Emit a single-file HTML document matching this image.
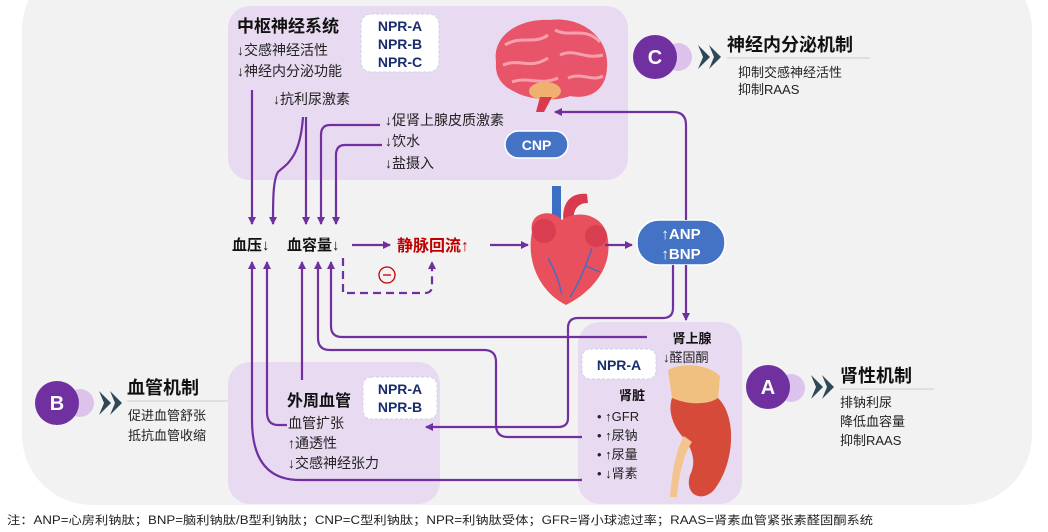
<!DOCTYPE html>
<html><head><meta charset="utf-8"><style>
html,body{margin:0;padding:0;background:#fff;}
svg{display:block;font-family:"Liberation Sans","Noto Sans CJK SC",sans-serif;}
</style></head><body>
<svg width="1048" height="532" viewBox="0 0 1048 532" xmlns="http://www.w3.org/2000/svg">
<defs>
<marker id="ar" markerWidth="8" markerHeight="8" refX="7" refY="4" orient="auto" markerUnits="userSpaceOnUse"><path d="M0,0 L8,4 L0,8 Z" fill="#7030a0"/></marker>
</defs>
<rect x="22" y="-40" width="1010" height="545" rx="70" fill="#f2f2f2"/>
<!-- boxes -->
<rect x="228" y="6" width="400" height="174" rx="22" fill="#e8daf0"/>
<rect x="228" y="362" width="212" height="142" rx="22" fill="#e8daf0"/>
<rect x="578" y="322" width="164" height="182" rx="22" fill="#e8daf0"/>

<!-- top texts -->
<text x="237" y="32" font-size="17" font-weight="bold" fill="#111">中枢神经系统</text>
<text x="237" y="55" font-size="14" fill="#222">↓交感神经活性</text>
<text x="237" y="76" font-size="14" fill="#222">↓神经内分泌功能</text>
<text x="273" y="104" font-size="14" fill="#222">↓抗利尿激素</text>
<text x="385" y="125" font-size="14" fill="#222">↓促肾上腺皮质激素</text>
<text x="385" y="146" font-size="14" fill="#222">↓饮水</text>
<text x="385" y="168" font-size="14" fill="#222">↓盐摄入</text>
<rect x="361" y="14" width="78" height="58" rx="10" fill="#fff" stroke="#c9d3ea" stroke-dasharray="3,2"/>
<g font-size="14" font-weight="bold" fill="#1a2d6e" text-anchor="middle">
<text x="400" y="31">NPR-A</text><text x="400" y="49">NPR-B</text><text x="400" y="67">NPR-C</text></g>

<!-- brain -->
<g>
<path d="M496,62 C492,35 520,18 550,20 C582,16 610,38 607,68 C606,90 590,100 570,96 C555,102 530,100 515,92 C500,85 495,75 496,62 Z" fill="#e8556a"/>
<path d="M505,45 C520,35 535,45 548,35 M503,65 C520,58 530,70 548,58 M555,30 C570,38 585,26 600,42 M560,55 C575,48 585,60 603,55 M512,82 C528,76 540,86 558,78 M568,78 C582,72 592,82 603,76" stroke="#f7a0ac" stroke-width="3" fill="none"/>
<ellipse cx="545" cy="91" rx="16" ry="9" fill="#f0b070"/>
<path d="M540,97 L536,112 L544,112 L552,97 Z" fill="#d93a50"/>
</g>
<rect x="505" y="131" width="63" height="27" rx="13.5" fill="#4472c4" stroke="#fff" stroke-width="1.5"/>
<text x="536.5" y="150" font-size="14" font-weight="bold" fill="#fff" text-anchor="middle">CNP</text>

<!-- heart -->
<g>
<path d="M552,186 L552,226 L561,226 L561,186 Z" fill="#3a6fc4"/>
<path d="M564,225 C560,202 572,192 587,194 L588,203 C576,203 572,212 574,225 Z" fill="#d93a50"/>
<path d="M532,232 C528,212 552,208 562,220 C580,208 606,216 608,240 C612,268 592,292 566,305 C540,292 526,262 532,232 Z" fill="#e8505e"/>
<circle cx="544" cy="231" r="12" fill="#d83e50"/><circle cx="596" cy="236" r="11" fill="#d83e50"/>
<path d="M592,248 C586,265 580,282 570,297 M586,266 L600,272 M548,258 C556,272 560,285 562,295" stroke="#3a6fc4" stroke-width="1.3" fill="none"/>
</g>

<!-- ANP/BNP -->
<rect x="637" y="220" width="88" height="45" rx="22" fill="#4472c4" stroke="#fff" stroke-width="1.5"/>
<text x="681" y="239" font-size="15" font-weight="bold" fill="#fff" text-anchor="middle">↑ANP</text>
<text x="681" y="259" font-size="15" font-weight="bold" fill="#fff" text-anchor="middle">↑BNP</text>

<!-- middle texts -->
<text x="232" y="250" font-size="15" font-weight="bold" fill="#111">血压↓</text>
<text x="287" y="250" font-size="15" font-weight="bold" fill="#111">血容量↓</text>
<text x="397" y="251" font-size="16" font-weight="bold" fill="#c00000">静脉回流↑</text>
<circle cx="387" cy="275" r="8" fill="none" stroke="#c00000" stroke-width="1.3"/>
<line x1="383" y1="275" x2="391" y2="275" stroke="#c00000" stroke-width="1.3"/>

<!-- arrows -->
<g stroke="#7030a0" stroke-width="2.2" fill="none">
<line x1="252" y1="90" x2="252" y2="224" marker-end="url(#ar)"/>
<path d="M303,117 C300,160 285,165 278,172 C273,180 273,200 273,224" marker-end="url(#ar)"/>
<line x1="306" y1="117" x2="306" y2="224" marker-end="url(#ar)"/>
<path d="M380,125 L330,125 Q321,125 321,135 L321,224" marker-end="url(#ar)"/>
<path d="M382,145 L345,145 Q336,145 336,155 L336,224" marker-end="url(#ar)"/>
<line x1="352" y1="245" x2="390" y2="245" marker-end="url(#ar)"/>
<line x1="490" y1="245" x2="528" y2="245" marker-end="url(#ar)"/>
<line x1="605" y1="245" x2="632" y2="245" marker-end="url(#ar)"/>
<path d="M343,258 L343,293 L425,293 Q432,293 432,286 L432,262" stroke-dasharray="8,5" marker-end="url(#ar)"/>
<path d="M686,220 L686,125 Q686,112 673,112 L555,112" marker-end="url(#ar)"/>
<line x1="686" y1="265" x2="686" y2="320" marker-end="url(#ar)"/>
<path d="M673,265 L673,308 Q673,318 663,318 L578,318 Q568,318 568,328 L568,418 Q568,427 558,427 L426,427" marker-end="url(#ar)"/>
<path d="M647,337 L342,337 Q331,337 331,326 L331,262" marker-end="url(#ar)"/>
<path d="M582,437 L508,437 Q496,437 496,425 L496,362 Q496,350 484,350 L330,350 Q318,350 318,338 L318,262" marker-end="url(#ar)"/>
<path d="M582,480 L300,480 Q252,480 252,420 L252,262" marker-end="url(#ar)"/>
<path d="M287,425 L278,425 Q267,425 267,412 L267,262" marker-end="url(#ar)"/>
<line x1="302" y1="380" x2="302" y2="262" marker-end="url(#ar)"/>
</g>

<!-- bottom-left texts -->
<text x="287" y="406" font-size="16" font-weight="bold" fill="#111">外周血管</text>
<text x="288" y="428" font-size="14" fill="#222">血管扩张</text>
<text x="288" y="448" font-size="14" fill="#222">↑通透性</text>
<text x="288" y="468" font-size="14" fill="#222">↓交感神经张力</text>
<rect x="363" y="377" width="74" height="42" rx="8" fill="#fff" stroke="#c9d3ea" stroke-dasharray="3,2"/>
<g font-size="14" font-weight="bold" fill="#1a2d6e" text-anchor="middle">
<text x="400" y="394">NPR-A</text><text x="400" y="412">NPR-B</text></g>

<!-- bottom-right -->
<text x="692" y="343" font-size="13" font-weight="bold" fill="#111" text-anchor="middle">肾上腺</text>
<text x="663" y="362" font-size="13" fill="#222">↓醛固酮</text>
<rect x="582" y="349" width="74" height="30" rx="8" fill="#fff" stroke="#c9d3ea" stroke-dasharray="3,2"/>
<text x="619" y="370" font-size="14" font-weight="bold" fill="#1a2d6e" text-anchor="middle">NPR-A</text>
<text x="645" y="400" font-size="13" font-weight="bold" fill="#111" text-anchor="end">肾脏</text>
<g font-size="13" fill="#222">
<text x="597" y="421">• ↑GFR</text><text x="597" y="440">• ↑尿钠</text>
<text x="597" y="459">• ↑尿量</text><text x="597" y="478">• ↓肾素</text></g>
<!-- kidney -->
<path d="M668,370 C682,362 708,364 720,376 L718,400 C700,406 682,404 672,398 Z" fill="#f0c080"/>
<path d="M672,398 C690,406 710,404 718,398 C738,418 734,465 714,490 C702,503 684,495 690,475 C698,460 690,445 682,436 C672,424 668,410 672,398 Z" fill="#d64a3a"/>
<path d="M684,436 C676,450 672,472 670,497 L677,497 C679,472 685,452 692,442 Z" fill="#f3c490"/>

<!-- side mechanisms -->
<g>
<circle cx="678" cy="57" r="14" fill="#ddc3ec"/><circle cx="655" cy="57" r="22" fill="#7030a0"/>
<text x="655" y="64" font-size="20" font-weight="bold" fill="#fff" text-anchor="middle">C</text>
<path d="M698,45 L710,57 L698,69 L703,57 Z M709,45 L721,57 L709,69 L714,57 Z" fill="#2f4858"/>
<text x="727" y="51" font-size="18" font-weight="bold" fill="#111">神经内分泌机制</text>
<line x1="727" y1="58" x2="870" y2="58" stroke="#ccc"/>
<text x="738" y="77" font-size="13" fill="#222">抑制交感神经活性</text>
<text x="738" y="94" font-size="13" fill="#222">抑制RAAS</text>

<circle cx="80" cy="403" r="14" fill="#ddc3ec"/><circle cx="57" cy="403" r="22" fill="#7030a0"/>
<text x="57" y="410" font-size="20" font-weight="bold" fill="#fff" text-anchor="middle">B</text>
<path d="M99,391 L111,403 L99,415 L104,403 Z M110,391 L122,403 L110,415 L115,403 Z" fill="#2f4858"/>
<text x="127" y="394" font-size="18" font-weight="bold" fill="#111">血管机制</text>
<line x1="127" y1="401" x2="228" y2="401" stroke="#ccc"/>
<text x="128" y="420" font-size="13" fill="#222">促进血管舒张</text>
<text x="128" y="440" font-size="13" fill="#222">抵抗血管收缩</text>

<circle cx="791" cy="388" r="14" fill="#ddc3ec"/><circle cx="768" cy="387" r="22" fill="#7030a0"/>
<text x="768" y="394" font-size="20" font-weight="bold" fill="#fff" text-anchor="middle">A</text>
<path d="M811,375 L823,387 L811,399 L816,387 Z M822,375 L834,387 L822,399 L827,387 Z" fill="#2f4858"/>
<text x="840" y="382" font-size="18" font-weight="bold" fill="#111">肾性机制</text>
<line x1="840" y1="389" x2="934" y2="389" stroke="#ccc"/>
<text x="840" y="407" font-size="13" fill="#222">排钠利尿</text>
<text x="840" y="426" font-size="13" fill="#222">降低血容量</text>
<text x="840" y="445" font-size="13" fill="#222">抑制RAAS</text>
</g>

<text x="7" y="524" font-size="11.5" fill="#222" textLength="866" lengthAdjust="spacingAndGlyphs">注：ANP=心房利钠肽；BNP=脑利钠肽/B型利钠肽；CNP=C型利钠肽；NPR=利钠肽受体；GFR=肾小球滤过率；RAAS=肾素血管紧张素醛固酮系统</text>
</svg>
</body></html>
